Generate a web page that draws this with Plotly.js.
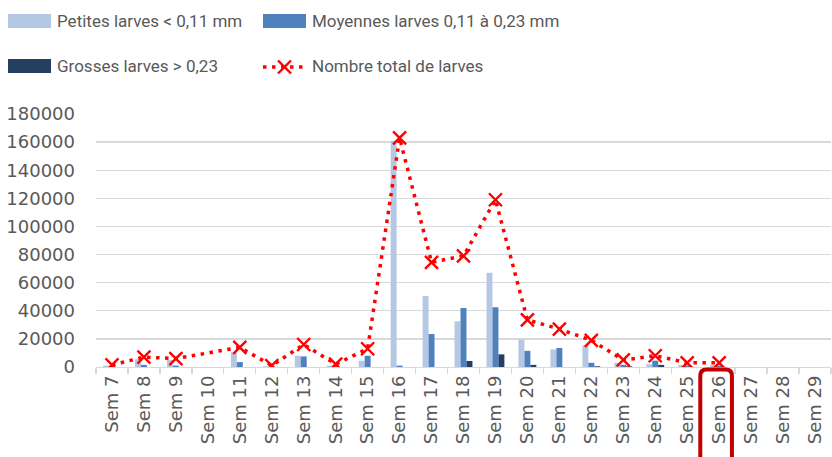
<!DOCTYPE html>
<html>
<head>
<meta charset="utf-8">
<script src="https://cdn.plot.ly/plotly-3.0.1.min.js"></script>
<style>
html,body{margin:0;padding:0;background:#fff;}
#chart{width:832px;height:457px;}
</style>
</head>
<body>
<div id="chart"></div>
<script>
// ---- data ----
var semaines = ["Sem 7","Sem 8","Sem 9","Sem 10","Sem 11","Sem 12","Sem 13","Sem 14","Sem 15","Sem 16","Sem 17","Sem 18","Sem 19","Sem 20","Sem 21","Sem 22","Sem 23","Sem 24","Sem 25","Sem 26","Sem 27","Sem 28","Sem 29"];
var petites  = [1000, 5500, 5000, null, 10500, 500, 8000, 1000, 4500, 161000, 50500, 32500, 67000, 19500, 12500, 15500, 3000, 2000, 1500, 1500, null, null, null];
var moyennes = [500, 1500, 1000, null, 3500, 500, 7500, 1000, 8000, 1000, 23500, 42000, 42500, 11500, 13500, 3000, 1500, 4500, 1000, 1000, null, null, null];
var grosses  = [0, 0, 0, null, 0, 0, 0, 0, 0, 0, 0, 4300, 9000, 1500, 0, 500, 500, 1500, 0, 0, null, null, null];
var total    = [1500, 7000, 6000, null, 14000, 1000, 16000, 2000, 13000, 163000, 74500, 79000, 119000, 33500, 27000, 19000, 5000, 8000, 3000, 3000, null, null, null];
var legendLabels = ["Petites larves < 0,11 mm", "Moyennes larves 0,11 à 0,23 mm", "Grosses larves > 0,23", "Nombre total de larves"];
var highlighted = "Sem 26";

// ---- styles ----
var cLight = "#b4c8e4", cMid = "#4f81bd", cDark = "#243f60", cRed = "#ff0000";
var txt = "#595959";
var M = {l:96, r:1, t:114, b:90};
var W = 832, H = 457;
var pw = W - M.l - M.r, ph = H - M.t - M.b;
function px(x){ return (x - M.l) / pw; }
function py(y){ return (H - M.b - y) / ph; }

var traces = [
  {type:"bar", name:legendLabels[0], x:semaines, y:petites, marker:{color:cLight}},
  {type:"bar", name:legendLabels[1], x:semaines, y:moyennes, marker:{color:cMid}},
  {type:"bar", name:legendLabels[2], x:semaines, y:grosses, marker:{color:cDark}},
  {type:"scatter", mode:"lines+markers", name:legendLabels[3], x:semaines, y:total, connectgaps:true,
   line:{color:cRed, width:3.5, dash:"3.5px,5.5px"},
   marker:{symbol:"x-thin", size:13, line:{color:cRed, width:2.4}}}
];

var legFont = {family:"Roboto, Liberation Sans, sans-serif", size:17, color:txt};
var shapes = [];
var annotations = [];
var legItems = [
  {x:8, y:21, kind:"bar", color:cLight, label:legendLabels[0]},
  {x:263, y:21, kind:"bar", color:cMid, label:legendLabels[1]},
  {x:8, y:66, kind:"bar", color:cDark, label:legendLabels[2]},
  {x:263, y:66, kind:"line", color:cRed, label:legendLabels[3]}
];
legItems.forEach(function(it){
  if (it.kind === "bar") {
    shapes.push({type:"rect", xref:"paper", yref:"paper", x0:px(it.x), x1:px(it.x+43), y0:py(it.y-7), y1:py(it.y+7),
      fillcolor:it.color, line:{width:0}});
  } else {
    shapes.push({type:"line", xref:"paper", yref:"paper", x0:px(it.x), x1:px(it.x+43), y0:py(it.y+1), y1:py(it.y+1),
      line:{color:it.color, width:3.5, dash:"3.5px,5.5px"}});
    var cx = it.x + 21.5, cy = it.y + 1;
    shapes.push({type:"line", xref:"paper", yref:"paper", x0:px(cx-6.5), x1:px(cx+6.5), y0:py(cy-6.5), y1:py(cy+6.5), line:{color:it.color, width:2.4}});
    shapes.push({type:"line", xref:"paper", yref:"paper", x0:px(cx-6.5), x1:px(cx+6.5), y0:py(cy+6.5), y1:py(cy-6.5), line:{color:it.color, width:2.4}});
  }
  annotations.push({xref:"paper", yref:"paper", x:px(it.x+47), y:py(it.y), xanchor:"left", yanchor:"middle",
    text:it.label, showarrow:false, font:legFont});
});

// highlight box around Sem 26 label
var hi = semaines.indexOf(highlighted);
var xl = hi - 0.59, xr = hi + 0.40, yt = py(369.5), yb = py(470);
var rx = 0.2, ry = 6/ph;
shapes.push({type:"path", xref:"x", yref:"paper",
  path:"M "+xl+","+yb+" L "+xl+","+(yt-ry)+" Q "+xl+","+yt+" "+(xl+rx)+","+yt+" L "+(xr-rx)+","+yt+" Q "+xr+","+yt+" "+xr+","+(yt-ry)+" L "+xr+","+yb,
  line:{color:"#c00000", width:4}});

var layout = {
  width:W, height:H, margin:M,
  paper_bgcolor:"#fff", plot_bgcolor:"#fff",
  showlegend:false,
  barmode:"group", bargap:0.44, bargroupgap:0,
  font:{family:"DejaVu Sans, sans-serif", size:18, color:txt},
  xaxis:{type:"category", tickangle:-90, ticks:"outside", tickson:"boundaries", ticklen:6, tickcolor:"#d9d9d9", tickwidth:1.3,
         showline:true, linecolor:"#d9d9d9", linewidth:1.3, showgrid:false, range:[-0.5, semaines.length-0.5],
         tickfont:{family:"DejaVu Sans, sans-serif", size:18, color:txt}},
  yaxis:{range:[0,180000], dtick:20000, tickformat:"d", showgrid:true, gridcolor:"#d9d9d9", gridwidth:1.3,
         zeroline:false, showline:false, ticks:"", ticklabelstandoff:20,
         tickfont:{family:"DejaVu Sans, sans-serif", size:18, color:txt}},
  shapes:shapes, annotations:annotations
};

Plotly.newPlot("chart", traces, layout, {displayModeBar:false, staticPlot:true});
</script>
</body>
</html>
